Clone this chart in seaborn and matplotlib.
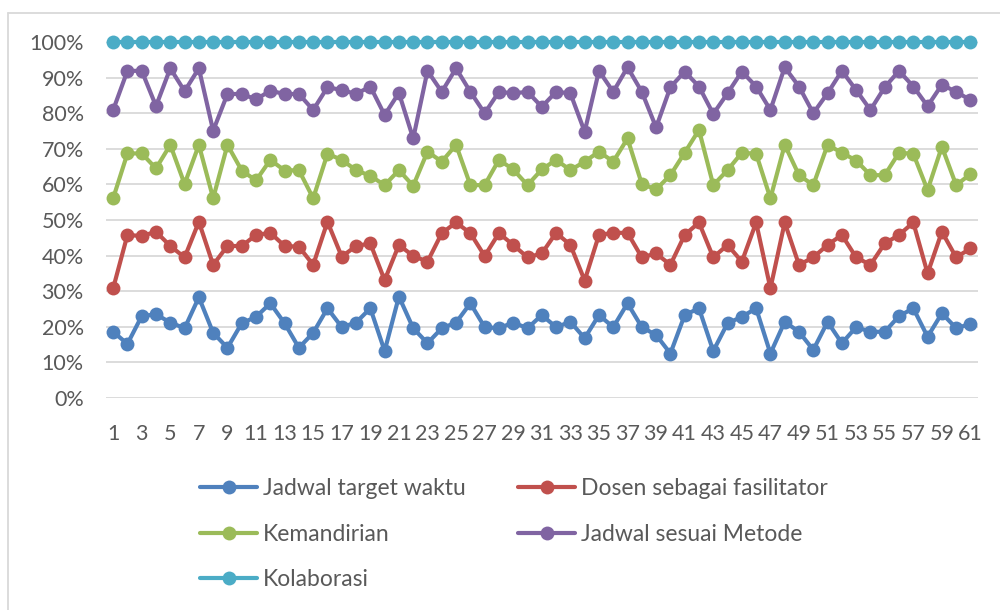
import numpy as np
import pandas as pd
import matplotlib
matplotlib.use("Agg")
import matplotlib.pyplot as plt
from matplotlib.lines import Line2D
import seaborn as sns

points = list(range(1, 62))
tick_labels = [str(i) for i in range(1, 62, 2)]

jadwal_target_waktu = [
    18.6, 15.2, 23.0, 23.5, 21.2, 19.6, 28.3, 18.3, 14.1, 21.0,
    22.8, 26.6, 21.0, 14.1, 18.3, 25.2, 19.9, 21.2, 25.2, 13.2,
    28.5, 19.6, 15.4, 19.6, 21.2, 26.6, 19.9, 19.6, 21.2, 19.6,
    23.3, 19.9, 21.4, 16.8, 23.3, 19.9, 26.6, 19.9, 17.7, 12.5,
    23.3, 25.2, 13.2, 21.0, 22.8, 25.2, 12.5, 21.4, 18.6, 13.5,
    21.4, 15.4, 19.9, 18.6, 18.6, 23.0, 25.2, 17.2, 23.8, 19.6,
    20.8]
dosen_fasilitator = [
    30.8, 45.8, 45.5, 46.7, 42.7, 39.5, 49.5, 37.4, 42.7, 42.7,
    45.8, 46.4, 42.7, 42.5, 37.4, 49.5, 39.7, 42.7, 43.4, 33.1,
    43.0, 39.9, 38.3, 46.3, 49.3, 46.3, 39.9, 46.3, 43.0, 39.5,
    40.6, 46.4, 43.0, 33.0, 45.8, 46.4, 46.4, 39.5, 40.6, 37.4,
    45.8, 49.3, 39.5, 43.0, 38.3, 49.3, 30.8, 49.3, 37.4, 39.5,
    43.0, 45.8, 39.5, 37.4, 43.4, 45.8, 49.3, 35.0, 46.7, 39.5,
    42.0]
kemandirian = [
    56.1, 68.7, 68.7, 64.5, 71.1, 60.1, 71.1, 56.1, 71.1, 63.9,
    61.1, 66.9, 63.9, 64.0, 56.1, 68.6, 66.9, 64.0, 62.4, 59.8,
    64.0, 59.6, 69.2, 66.4, 71.1, 59.8, 59.8, 66.9, 64.2, 59.8,
    64.2, 66.9, 64.0, 66.4, 69.2, 66.4, 72.9, 60.1, 58.6, 62.6,
    68.9, 75.3, 59.8, 64.0, 68.9, 68.6, 56.1, 71.1, 62.6, 59.8,
    71.1, 68.9, 66.7, 62.6, 62.6, 68.9, 68.6, 58.4, 70.6, 59.8,
    62.9]
jadwal_metode = [
    80.9, 91.9, 91.9, 82.0, 92.6, 86.2, 92.6, 75.1, 85.4, 85.4,
    83.9, 86.3, 85.4, 85.4, 80.9, 87.3, 86.5, 85.4, 87.5, 79.5,
    85.7, 72.9, 91.9, 86.0, 92.6, 86.0, 80.0, 86.0, 85.6, 86.0,
    81.8, 86.0, 85.6, 74.8, 91.9, 86.0, 92.9, 86.0, 76.0, 87.3,
    91.7, 87.5, 79.8, 85.6, 91.7, 87.5, 80.9, 92.9, 87.5, 80.0,
    85.6, 91.9, 86.5, 80.9, 87.3, 91.9, 87.5, 82.0, 88.0, 86.0,
    83.7]
kolaborasi = [100.0] * 61

series_names = ["Jadwal target waktu", "Dosen sebagai fasilitator", "Kemandirian",
                "Jadwal sesuai Metode", "Kolaborasi"]
series_values = [jadwal_target_waktu, dosen_fasilitator, kemandirian, jadwal_metode, kolaborasi]
colors = ["#4F81BD", "#C0504D", "#9BBB59", "#8064A2", "#4BACC6"]

df = pd.concat([pd.DataFrame({"point": points, "value": v, "series": n})
                for n, v in zip(series_names, series_values)], ignore_index=True)

sns.set_theme(style="white")
plt.rcParams['font.family'] = ['Lato', 'DejaVu Sans']
text_color = "#595959"
fs = 15.5
fs_leg = 16.5

fig = plt.figure(figsize=(10, 6.1), dpi=100)
ax = fig.add_axes([0.106, 1 - 398 / 610, 0.8716, (398 - 42) / 610])

palette = dict(zip(series_names, colors))
sns.lineplot(data=df, x="point", y="value", hue="series", palette=palette,
             hue_order=series_names, marker="o", markersize=10, linewidth=3,
             markeredgewidth=0, legend=False, ax=ax, clip_on=False)

ax.set_xlim(0.5, 61.5)
ax.set_ylim(0, 100)
ax.set_yticks(np.arange(0, 101, 10))
ax.set_yticklabels([f"{int(t)}%" for t in np.arange(0, 101, 10)])
ax.set_xticks(range(1, 62, 2))
ax.set_xticklabels(tick_labels)
ax.tick_params(axis="both", length=0, labelsize=fs, colors=text_color)
ax.tick_params(axis="y", pad=16)
ax.tick_params(axis="x", pad=18.5)
ax.set_xlabel("")
ax.set_ylabel("")
for s in ax.spines.values():
    s.set_visible(False)
ax.yaxis.grid(True, color="#D9D9D9", linewidth=1.3)
ax.set_axisbelow(True)

handles = [Line2D([0], [0], color=c, linewidth=3, marker="o", markersize=10,
                  markeredgewidth=0) for c in colors]
order = [0, 2, 4, 1, 3]
leg = fig.legend([handles[i] for i in order], [series_names[i] for i in order],
                 loc="upper left", bbox_to_anchor=(0.2, 1 - 478 / 610), ncol=2,
                 frameon=False, fontsize=fs_leg, handlelength=2.5, handletextpad=0.26,
                 labelspacing=1.08, columnspacing=2.27, borderaxespad=0, borderpad=0)
for t in leg.get_texts():
    t.set_color(text_color)

# outer chart border (left and top visible in reference)
fig.add_artist(Line2D([0.008, 0.008], [0, 1 - 13 / 610], color="#D9D9D9", linewidth=1.3,
                      transform=fig.transFigure))
fig.add_artist(Line2D([0.008, 1.0], [1 - 13 / 610, 1 - 13 / 610], color="#D9D9D9",
                      linewidth=1.3, transform=fig.transFigure))

fig.savefig("out.png", dpi=100)
